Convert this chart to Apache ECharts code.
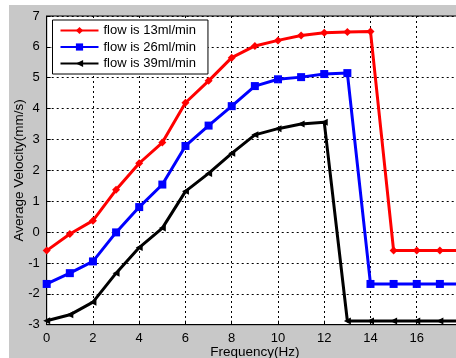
<!DOCTYPE html>
<html>
<head>
<meta charset="utf-8">
<script src="https://cdn.jsdelivr.net/npm/echarts@6/dist/echarts.min.js"></script>
<style>
  html, body { margin: 0; padding: 0; background: #fff; }
  #chart { width: 456px; height: 358px; }
</style>
</head>
<body>
<div id="chart"></div>
<script>
// frequency (Hz)
const freq = [0, 1, 2, 3, 4, 5, 6, 7, 8, 9, 10, 11, 12, 13, 14, 15, 16, 17, 18];

// average velocity (mm/s)
const flow13 = [-0.6, -0.06, 0.37, 1.37, 2.23, 2.9, 4.19, 4.9, 5.65, 6.03, 6.21, 6.37, 6.46, 6.48, 6.5, -0.6, -0.6, -0.6, -0.6];
const flow26 = [-1.68, -1.33, -0.95, -0.01, 0.81, 1.54, 2.79, 3.45, 4.08, 4.73, 4.95, 5.02, 5.12, 5.15, -1.68, -1.68, -1.68, -1.68, -1.68];
const flow39 = [-2.87, -2.68, -2.27, -1.33, -0.5, 0.13, 1.32, 1.9, 2.55, 3.15, 3.35, 3.5, 3.56, -2.88, -2.88, -2.88, -2.88, -2.88, -2.88];

const seriesNames = ['flow is 13ml/min', 'flow is 26ml/min', 'flow is 39ml/min'];
const xTicks = { min: 0, max: 18, interval: 2 };
const yTicks = { min: -3, max: 7, interval: 1 };

const chart = echarts.init(document.getElementById('chart'));
const font = 'Liberation Sans, Arial, sans-serif';

const pairs = (ys) => freq.map((x, i) => [x, ys[i]]);

const gridLine = { show: true, lineStyle: { color: '#000', type: [2, 3], width: 1 } };

chart.setOption({
  backgroundColor: '#fff',
  animation: false,
  textStyle: { fontFamily: font },
  graphic: [{
    type: 'rect', z: -10, silent: true,
    shape: { x: 9, y: 5, width: 447, height: 353 },
    style: { fill: '#c8c8c8' }
  }, {
    type: 'rect', z: -9, silent: true,
    shape: { x: 46.7, y: 16, width: 416, height: 308.7 },
    style: { fill: '#fff', stroke: '#000', lineWidth: 1 }
  }],
  grid: { left: 46.7, right: -7, top: 16, bottom: 33.3, outerBoundsMode: 'none', containLabel: false },
  legend: {
    orient: 'vertical',
    left: 52.5, top: 20,
    backgroundColor: '#fff',
    borderColor: '#000', borderWidth: 1, borderRadius: 0,
    padding: [3, 12, 3, 7],
    itemWidth: 38, itemHeight: 9, itemGap: 1.5,
    textStyle: { fontFamily: font, fontSize: 13, lineHeight: 15, color: '#000' },
    data: seriesNames
  },
  xAxis: {
    type: 'value', min: xTicks.min, max: xTicks.max, interval: xTicks.interval,
    name: 'Frequency(Hz)', nameLocation: 'middle', nameGap: 21, nameMoveOverlap: false,
    nameTextStyle: { fontFamily: font, fontSize: 13.5, color: '#000' },
    axisLine: { show: true, onZero: false, lineStyle: { color: '#000', width: 1 } },
    axisTick: { show: true, inside: true, length: 4, lineStyle: { color: '#000' } },
    axisLabel: { fontFamily: font, fontSize: 13, color: '#000', margin: 7 },
    splitLine: gridLine
  },
  yAxis: {
    type: 'value', min: yTicks.min, max: yTicks.max, interval: yTicks.interval,
    name: 'Average Velocity(mm/s)', nameLocation: 'middle', nameGap: 20, nameMoveOverlap: false,
    nameTextStyle: { fontFamily: font, fontSize: 13.5, color: '#000' },
    axisLine: { show: true, onZero: false, lineStyle: { color: '#000', width: 1 } },
    axisTick: { show: true, inside: true, length: 4, lineStyle: { color: '#000' } },
    axisLabel: { fontFamily: font, fontSize: 13, color: '#000', margin: 7 },
    splitLine: gridLine
  },
  series: [{
    name: seriesNames[0], type: 'line', data: pairs(flow13),
    color: '#ff0000', lineStyle: { width: 3 },
    symbol: 'diamond', symbolSize: 8, showAllSymbol: true
  }, {
    name: seriesNames[1], type: 'line', data: pairs(flow26),
    color: '#0000ff', lineStyle: { width: 3 },
    symbol: 'rect', symbolSize: 8, showAllSymbol: true
  }, {
    name: seriesNames[2], type: 'line', data: pairs(flow39),
    color: '#000000', lineStyle: { width: 3 },
    symbol: 'triangle', symbolRotate: 90, symbolSize: 7, showAllSymbol: true
  }]
});
</script>
</body>
</html>
